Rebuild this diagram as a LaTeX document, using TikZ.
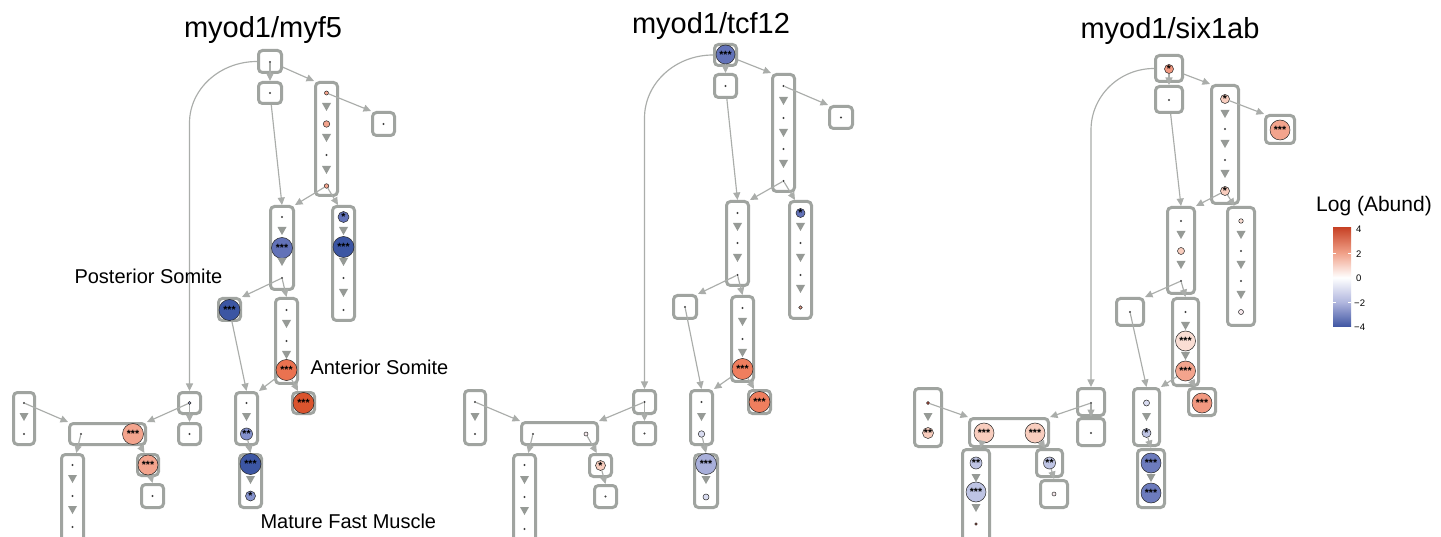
\documentclass[tikz,border=0pt]{standalone}
\usepackage{fontspec}
\setmainfont{Liberation Sans}
\usetikzlibrary{arrows.meta,calc}
\definecolor{boxgray}{RGB}{160,164,160}
\definecolor{edgegray}{RGB}{170,173,170}
\definecolor{trigray}{RGB}{150,154,150}
\definecolor{bDark}{RGB}{60,86,163}
\definecolor{bMid}{RGB}{98,114,184}
\definecolor{bMidB}{RGB}{108,123,189}
\definecolor{bLight}{RGB}{132,145,204}
\definecolor{bPale}{RGB}{168,175,218}
\definecolor{bPaleB}{RGB}{190,196,228}
\definecolor{bVPale}{RGB}{216,219,240}
\definecolor{oDark}{RGB}{218,84,46}
\definecolor{oMid}{RGB}{234,114,80}
\definecolor{oMidB}{RGB}{239,126,94}
\definecolor{sal}{RGB}{243,164,141}
\definecolor{salB}{RGB}{241,152,128}
\definecolor{salPale}{RGB}{248,205,190}
\definecolor{salVPale}{RGB}{250,222,212}
\definecolor{redSm}{RGB}{210,76,54}
\definecolor{pinkW}{RGB}{246,232,236}
\definecolor{cbB}{RGB}{62,84,162}
\definecolor{cbLB}{RGB}{176,182,222}
\definecolor{cbLR}{RGB}{240,160,136}
\definecolor{cbR}{RGB}{200,68,40}
\pgfdeclareverticalshading{logab}{100bp}{color(0bp)=(cbB); color(25bp)=(cbB); color(37.5bp)=(cbLB); color(50bp)=(white); color(62.5bp)=(cbLR); color(75bp)=(cbR); color(100bp)=(cbR)}
\tikzset{
  bx/.style={draw=boxgray, line width=3pt, rounded corners=4pt, inner sep=0pt},
  tdot/.style={circle, fill=black!75, inner sep=0pt, minimum size=2.2pt},
  circn/.style={circle, draw=black!85, line width=0.5pt, inner sep=0pt, font=\fontsize{10.5}{10}\selectfont\bfseries},
  edge/.style={draw=edgegray, line width=1.15pt, -{Triangle[length=7.5pt,width=7pt]}},
  title/.style={anchor=base, font=\fontsize{29}{30}\selectfont},
  lab/.style={anchor=base west, font=\fontsize{20}{22}\selectfont},
  tick/.style={anchor=west, font=\fontsize{9.5}{10}\selectfont, inner sep=0pt}
}
\newcommand{\bx}[5]{\node[bx, minimum width={#4pt-3pt}, minimum height={#5pt-3pt}] (#1) at (#2,#3) {};}
\newcommand{\tdot}[3]{\node[tdot] (#1) at (#2,#3) {};}
\newcommand{\circn}[6]{\node[circn, fill=#4, minimum size=#5pt] (#1) at (#2,#3) {#6};}
\newcommand{\dtri}[2]{\fill[trigray, shift={(#1,#2)}] (-4.5,-4) -- (4.5,-4) -- (0,4) -- cycle;}
\newcommand{\panelEdges}[1]{%
  \draw[edge] (#1a1) -- (#1B.north);
  \draw[edge] (#1A) -- (#1C.north west);
  \draw[edge] (#1A.west) .. controls ($(#1A.west)!0.552!(#1A.west -| #1bend)$) and ($(#1bend)!0.552!(#1A.west -| #1bend)$) .. (#1bend) -- (#1N.north);
  \draw[edge] (#1B) -- (#1E.north);
  \draw[edge] (#1c1) -- (#1D.north west);
  \draw[edge] (#1c4) -- (#1E.north east);
  \draw[edge] (#1c4) -- ($(#1F.north west)!0.28!(#1F.north east)$);
  \draw[edge] (#1e3) -- (#1G.north east);
  \draw[edge] (#1e3) -- (#1H.north);
  \draw[edge] (#1g1) -- (#1J.north);
  \draw[edge] (#1h3) -- (#1J.north east);
  \draw[edge] (#1h3) -- ($(#1I.north west)!0.28!(#1I.north east)$);
  \draw[edge] (#1j2) -- (#1K.north);
  \draw[edge] (#1l1) -- (#1M.north west);
  \draw[edge] (#1n1) -- (#1M.north east);
  \draw[edge] (#1n1) -- (#1O.north);
  \draw[edge] (#1m1) -- ($(#1R.north west)!0.65!(#1R.north east)$);
  \draw[edge] (#1m2) -- ($(#1P.north west)!0.35!(#1P.north east)$);
  \draw[edge] (#1p1) -- (#1Q.north);
}
\begin{document}
\begin{tikzpicture}[x=1pt,y=-1pt]
\clip (0,0) rectangle (1441,537);
\fill[white] (0,0) rectangle (1441,537);
% ================= titles
\node[title] (t1) at (263,38) {myod1/myf5};
\node[title] (t2) at (711,34) {myod1/tcf12};
\node[title] (t3) at (1170,39) {myod1/six1ab};
% ================= panel 1
\bx{p1A}{270}{61.5}{26}{25}
\bx{p1B}{270}{93}{26}{24}
\bx{p1C}{326.5}{139}{25}{116}
\bx{p1D}{383.5}{124}{25}{26}
\bx{p1E}{282}{248}{26}{86}
\bx{p1F}{343.5}{263.5}{25}{117}
\bx{p1G}{229.5}{309.5}{25}{25}
\bx{p1H}{286.5}{341}{25}{88}
\bx{p1I}{303.5}{403}{25}{24}
\bx{p1J}{246.5}{418.5}{25}{55}
\bx{p1K}{250.5}{481}{25}{56}
\bx{p1L}{24}{418.5}{24}{55}
\bx{p1M}{107.5}{434}{79}{24}
\bx{p1N}{189.5}{403}{25}{24}
\bx{p1O}{189.5}{434}{25}{24}
\bx{p1P}{148}{465}{24}{24}
\bx{p1Q}{152.5}{496}{25}{26}
\bx{p1R}{72.5}{499}{25}{92}
\tdot{p1a1}{270}{62}
\tdot{p1b1}{270}{93}
\circn{p1c1}{326.5}{93}{sal}{4}{}
\dtri{326.5}{107}
\circn{p1c2}{326.5}{124}{sal}{6.5}{}
\dtri{326.5}{138}
\tdot{p1c3}{326.5}{155}
\dtri{326.5}{170}
\circn{p1c4}{326.5}{186}{sal}{4.5}{}
\tdot{p1d1}{383.5}{124}
\tdot{p1e1}{282}{217}
\dtri{282}{231}
\circn{p1e2}{282}{248}{bMid}{21}{***}
\dtri{282}{262}
\tdot{p1e3}{282}{278}
\circn{p1f1}{343.5}{217}{bMid}{11}{*}
\dtri{343.5}{231}
\circn{p1f2}{343.5}{247}{bDark}{21}{***}
\dtri{343.5}{262}
\tdot{p1f3}{343.5}{278}
\dtri{343.5}{293}
\tdot{p1f4}{343.5}{310}
\circn{p1g1}{229.5}{310}{bDark}{21}{***}
\tdot{p1h1}{286.5}{310}
\dtri{286.5}{324}
\tdot{p1h2}{286.5}{341}
\dtri{286.5}{355}
\circn{p1h3}{286.5}{370}{oMid}{21}{***}
\circn{p1i1}{303.5}{403}{oDark}{21}{***}
\tdot{p1j1}{246.5}{403}
\dtri{246.5}{417}
\circn{p1j2}{246.5}{434}{bLight}{12}{**}
\circn{p1k1}{250.5}{464}{bDark}{21}{***}
\dtri{250.5}{480}
\circn{p1k2}{250.5}{496}{bLight}{10}{*}
\tdot{p1l1}{24}{403}
\dtri{24}{417}
\tdot{p1l2}{24}{434}
\tdot{p1m1}{81}{434}
\circn{p1m2}{133}{434}{sal}{21}{***}
\circn{p1n1}{189.5}{403}{bPale}{3}{}
\tdot{p1o1}{189.5}{434}
\circn{p1p1}{148}{465}{sal}{20}{***}
\tdot{p1q1}{152.5}{496}
\tdot{p1r1}{72.5}{465}
\dtri{72.5}{479}
\tdot{p1r2}{72.5}{496}
\dtri{72.5}{510}
\tdot{p1r3}{72.5}{527}
\coordinate (p1bend) at (189.5,123);
\panelEdges{p1}
\node[lab] (ps) at (71,284) {Posterior Somite};
\node[lab] (as) at (307,374) {Anterior Somite};
\node[lab] (mf) at (257,528) {Mature Fast Muscle};
% ================= panel 2
\bx{p2A}{725.5}{55}{25}{24}
\bx{p2B}{725.5}{86}{25}{26}
\bx{p2C}{783.5}{133}{25}{120}
\bx{p2D}{841}{117.5}{26}{25}
\bx{p2E}{737.5}{243.5}{25}{87}
\bx{p2F}{800.5}{260}{25}{120}
\bx{p2G}{685}{307}{26}{26}
\bx{p2H}{742.5}{339}{25}{88}
\bx{p2I}{759.5}{402}{25}{26}
\bx{p2J}{701.5}{417.5}{25}{57}
\bx{p2K}{706}{481}{26}{56}
\bx{p2L}{475}{417.5}{24}{57}
\bx{p2M}{559.5}{433.5}{79}{25}
\bx{p2N}{644.5}{402}{25}{26}
\bx{p2O}{644.5}{433.5}{25}{25}
\bx{p2P}{600.5}{465.5}{25}{25}
\bx{p2Q}{605.5}{496.5}{25}{25}
\bx{p2R}{524.5}{501.5}{25}{97}
\circn{p2a1}{725.5}{54.5}{bMid}{19}{***}
\tdot{p2b1}{725.5}{86}
\tdot{p2c1}{783.5}{86}
\dtri{783.5}{101}
\tdot{p2c2}{783.5}{118}
\dtri{783.5}{133}
\tdot{p2c3}{783.5}{149}
\dtri{783.5}{164}
\tdot{p2c4}{783.5}{181}
\tdot{p2d1}{841}{117.5}
\tdot{p2e1}{737.5}{213}
\dtri{737.5}{227}
\tdot{p2e2}{737.5}{243}
\dtri{737.5}{258}
\tdot{p2e3}{737.5}{275}
\circn{p2f1}{800.5}{213}{bMid}{9}{*}
\dtri{800.5}{227}
\tdot{p2f2}{800.5}{243}
\dtri{800.5}{258}
\tdot{p2f3}{800.5}{275}
\dtri{800.5}{289}
\circn{p2f4}{800.5}{307.5}{sal}{3.5}{}
\tdot{p2g1}{685}{307}
\tdot{p2h1}{742.5}{308}
\dtri{742.5}{322}
\tdot{p2h2}{742.5}{339}
\dtri{742.5}{353}
\circn{p2h3}{742.5}{369}{oMidB}{21}{***}
\circn{p2i1}{759.5}{402}{oMidB}{21}{***}
\tdot{p2j1}{701.5}{402}
\dtri{701.5}{417}
\circn{p2j2}{701.5}{434}{bVPale}{6.5}{}
\circn{p2k1}{706}{464}{bPale}{21}{***}
\dtri{706}{480}
\circn{p2k2}{706}{497}{bVPale}{6}{}
\tdot{p2l1}{475}{402}
\dtri{475}{417}
\tdot{p2l2}{475}{434}
\tdot{p2m1}{533}{434}
\circn{p2m2}{586}{434}{pinkW}{4}{}
\tdot{p2n1}{644.5}{402}
\tdot{p2o1}{644.5}{433.5}
\circn{p2p1}{600.5}{465.5}{salPale}{10}{*}
\tdot{p2q1}{605.5}{496.5}
\tdot{p2r1}{524.5}{465}
\dtri{524.5}{480}
\tdot{p2r2}{524.5}{497}
\dtri{524.5}{511}
\tdot{p2r3}{524.5}{529}
\coordinate (p2bend) at (644.5,118);
\panelEdges{p2}
% ================= panel 3
\bx{p3A}{1169}{68.5}{30}{29}
\bx{p3B}{1169}{99.5}{30}{29}
\bx{p3C}{1225}{144.5}{30}{121}
\bx{p3D}{1280}{129.5}{32}{31}
\bx{p3E}{1181}{250.5}{30}{89}
\bx{p3F}{1241}{266.5}{30}{121}
\bx{p3G}{1130}{312}{30}{30}
\bx{p3H}{1185.5}{342}{29}{90}
\bx{p3I}{1202}{402}{30}{30}
\bx{p3J}{1146.5}{417}{29}{60}
\bx{p3K}{1151}{478.5}{30}{61}
\bx{p3L}{928}{417.5}{30}{61}
\bx{p3M}{1009}{432.5}{82}{31}
\bx{p3N}{1091}{402}{30}{30}
\bx{p3O}{1091}{432}{30}{30}
\bx{p3P}{1049.5}{463}{29}{30}
\bx{p3Q}{1054}{494}{30}{30}
\bx{p3R}{976}{499}{30}{102}
\circn{p3a1}{1169}{69}{salB}{9}{*}
\tdot{p3b1}{1169}{100}
\circn{p3c1}{1225}{99}{salPale}{9}{*}
\dtri{1225}{114}
\tdot{p3c2}{1225}{129}
\dtri{1225}{144}
\tdot{p3c3}{1225}{160}
\dtri{1225}{174}
\circn{p3c4}{1225}{191}{salPale}{9}{*}
\circn{p3d1}{1280}{130}{sal}{20}{***}
\tdot{p3e1}{1181}{221}
\dtri{1181}{235}
\circn{p3e2}{1181}{251}{salPale}{7}{}
\dtri{1181}{265}
\tdot{p3e3}{1181}{281}
\circn{p3f1}{1241}{221}{salVPale}{4.5}{}
\dtri{1241}{235}
\tdot{p3f2}{1241}{251}
\dtri{1241}{265}
\tdot{p3f3}{1241}{281}
\dtri{1241}{295}
\circn{p3f4}{1241}{312}{pinkW}{5}{}
\tdot{p3g1}{1130}{312}
\tdot{p3h1}{1185.5}{312}
\dtri{1185.5}{326}
\circn{p3h2}{1185.5}{341}{salVPale}{20}{***}
\dtri{1185.5}{356}
\circn{p3h3}{1185.5}{371}{sal}{20}{***}
\circn{p3i1}{1202}{403}{salB}{20}{***}
\circn{p3j1}{1146.5}{403}{bVPale}{6}{}
\dtri{1146.5}{417}
\circn{p3j2}{1146.5}{433}{bPaleB}{9}{*}
\circn{p3k1}{1151}{463}{bMidB}{20}{***}
\dtri{1151}{478}
\circn{p3k2}{1151}{493}{bMidB}{20}{***}
\circn{p3l1}{928}{403}{redSm}{3}{}
\dtri{928}{417}
\circn{p3l2}{928}{433}{salPale}{11}{**}
\circn{p3m1}{984}{433}{salPale}{20}{***}
\circn{p3m2}{1035}{433}{salPale}{20}{***}
\tdot{p3n1}{1091}{403}
\tdot{p3o1}{1091}{433}
\circn{p3p1}{1049.5}{463}{bPaleB}{12}{**}
\circn{p3q1}{1054}{494}{pinkW}{4}{}
\circn{p3r1}{976}{463}{bPaleB}{12}{**}
\dtri{976}{478}
\circn{p3r2}{976}{492}{bPaleB}{20}{***}
\dtri{976}{508}
\circn{p3r3}{976}{524}{redSm}{2.5}{}
\coordinate (p3bend) at (1091,130);
\panelEdges{p3}
% ================= legend
\node[anchor=base west, font=\fontsize{21}{22}\selectfont, inner sep=0pt] (lg) at (1316,212) {Log (Abund)};
\node[shading=logab, minimum width=18pt, minimum height=99pt, inner sep=0pt] (cbar) at (1342,277.5) {};
\foreach \yy in {253.5,302} {
  \draw[white, line width=0.6pt] (1333,\yy) -- (1336,\yy) (1348,\yy) -- (1351,\yy);
}
\node[tick] (k4) at (1356,229) {4};
\node[tick] (k2) at (1356,254) {2};
\node[tick] (k0) at (1356,278) {0};
\node[tick] (km2) at (1354,303) {−2};
\node[tick] (km4) at (1354,327) {−4};
\end{tikzpicture}
\end{document}
